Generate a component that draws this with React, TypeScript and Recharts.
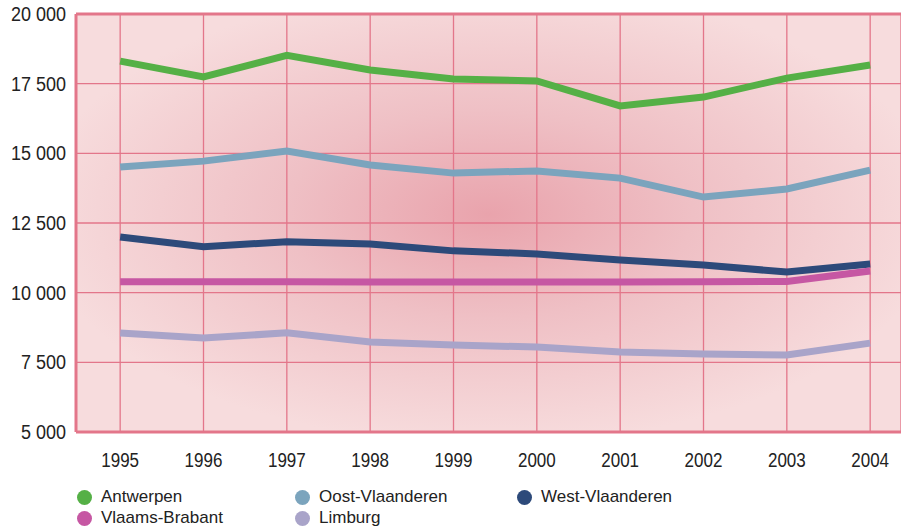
import React from "react";
import { LineChart, Line, XAxis, YAxis, CartesianGrid, ReferenceLine } from "recharts";

const years = [1995, 1996, 1997, 1998, 1999, 2000, 2001, 2002, 2003, 2004];
const antwerpen = [18310, 17740, 18520, 17990, 17670, 17600, 16700, 17020, 17700, 18170];
const oostVlaanderen = [14510, 14720, 15080, 14580, 14290, 14370, 14110, 13430, 13720, 14400];
const westVlaanderen = [12000, 11650, 11830, 11750, 11500, 11390, 11170, 10990, 10740, 11030];
const vlaamsBrabant = [10390, 10390, 10390, 10380, 10380, 10380, 10380, 10390, 10400, 10780];
const limburg = [8550, 8370, 8560, 8230, 8120, 8050, 7870, 7800, 7760, 8190];
const yTicks = [5000, 7500, 10000, 12500, 15000, 17500, 20000];

const series = [
  { key: "antwerpen", name: "Antwerpen", color: "#55b046", values: antwerpen },
  { key: "oost", name: "Oost-Vlaanderen", color: "#7ba4bd", values: oostVlaanderen },
  { key: "west", name: "West-Vlaanderen", color: "#2d4a7a", values: westVlaanderen },
  { key: "brabant", name: "Vlaams-Brabant", color: "#c657a3", values: vlaamsBrabant },
  { key: "limburg", name: "Limburg", color: "#a9a4c9", values: limburg },
];

const data = years.map((y, i) => {
  const row: Record<string, number> = { year: y };
  series.forEach((s) => (row[s.key] = s.values[i]));
  return row;
});

const fmt = (v: number) => {
  const s = String(v);
  return s.length > 3 ? s.slice(0, s.length - 3) + " " + s.slice(-3) : s;
};

const FONT = "'Liberation Sans', Arial, sans-serif";
const GRID = "#e3768a";

const XTick = (props: any) => {
  const { x, y, payload } = props;
  return (
    <g transform={`translate(${x},${y + 29})`}>
      <text x={0} y={0} textAnchor="middle" transform="scale(1,1.23)" fill="#222" fontSize={17} fontFamily={FONT}>
        {payload.value}
      </text>
    </g>
  );
};

const YTick = (props: any) => {
  const { x, y, payload } = props;
  return (
    <g transform={`translate(${x},${y + 7})`}>
      <text x={0} y={0} textAnchor="end" transform="scale(1,1.09)" fill="#222" fontSize={18} fontFamily={FONT}>
        {fmt(payload.value)}
      </text>
    </g>
  );
};

const legendLayout = [
  { s: series[0], x: 85, y: 497 },
  { s: series[1], x: 303, y: 497 },
  { s: series[2], x: 525, y: 497 },
  { s: series[3], x: 85, y: 518 },
  { s: series[4], x: 303, y: 518 },
];

export default function App() {
  return (
    <div style={{ position: "absolute", left: 0, top: 0, width: 901, height: 527, background: "#fff", overflow: "hidden" }}>
      <LineChart width={901} height={527} data={data} margin={{ top: 14, right: 0, left: 0, bottom: 0 }}>
        <defs>
          <radialGradient id="bgGrad" cx="0.5" cy="0.48" r="0.55">
            <stop offset="0" stopColor="#e9a3ac" />
            <stop offset="0.45" stopColor="#efc0c5" />
            <stop offset="1" stopColor="#f7dcdd" />
          </radialGradient>
        </defs>
        <CartesianGrid stroke={GRID} strokeWidth={1.3} fill="url(#bgGrad)" fillOpacity={1} />
        <XAxis
          dataKey="year"
          type="number"
          domain={[1994.47, 2004.37]}
          ticks={years}
          tickLine={false}
          axisLine={{ stroke: GRID, strokeWidth: 3 }}
          tick={<XTick />}
          tickMargin={0}
          height={95}
          allowDataOverflow
        />
        <YAxis
          domain={[5000, 20000]}
          ticks={yTicks}
          tickFormatter={fmt}
          tickLine={false}
          axisLine={{ stroke: GRID, strokeWidth: 3 }}
          tick={<YTick />}
          tickMargin={4}
          width={76}
          interval={0}
        />
        <ReferenceLine y={20000} stroke={GRID} strokeWidth={3} />
        {series.map((s) => (
          <Line
            key={s.key}
            dataKey={s.key}
            name={s.name}
            stroke={s.color}
            strokeWidth={7}
            dot={false}
            activeDot={false}
            strokeLinejoin="miter"
            isAnimationActive={false}
          />
        ))}
      </LineChart>
      {legendLayout.map(({ s, x, y }) => (
        <div key={s.key} style={{ position: "absolute", left: x - 8, top: y - 10, height: 20, display: "flex", alignItems: "center", fontFamily: FONT, fontSize: 17, color: "#222", whiteSpace: "nowrap" }}>
          <span style={{ width: 15, height: 15, borderRadius: "50%", background: s.color, display: "inline-block", marginRight: 9 }} />
          {s.name}
        </div>
      ))}
    </div>
  );
}
